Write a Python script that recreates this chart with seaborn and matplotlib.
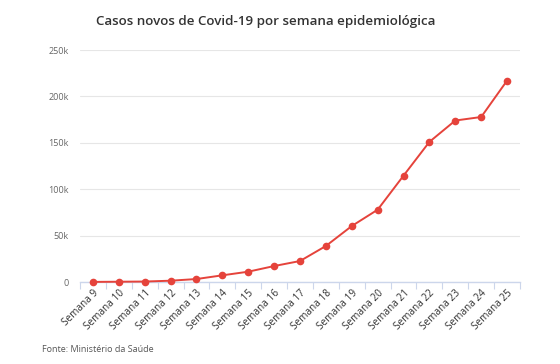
import matplotlib
matplotlib.use("Agg")
import matplotlib.pyplot as plt
import seaborn as sns
import pandas as pd
import numpy as np

semanas = ["Semana 9", "Semana 10", "Semana 11", "Semana 12", "Semana 13", "Semana 14",
           "Semana 15", "Semana 16", "Semana 17", "Semana 18", "Semana 19", "Semana 20",
           "Semana 21", "Semana 22", "Semana 23", "Semana 24", "Semana 25"]
casos = [100, 300, 500, 1400, 3200, 7200, 11100, 17200, 22600, 38800, 60300, 77900,
         114600, 151000, 174000, 177800, 217000]
yticks = [0, 50000, 100000, 150000, 200000, 250000]
ylabels = ["0", "50k", "100k", "150k", "200k", "250k"]

sns.set_theme(style="white")
plt.rcParams['font.family'] = ['Open Sans', 'DejaVu Sans']

df = pd.DataFrame({"semana": semanas, "casos": casos, "pos": np.arange(len(semanas))})

fig = plt.figure(figsize=(5.6, 3.64), dpi=100)
ax = fig.add_axes([80/560, 1-282/364, 440/560, 232/364])

red = "#e5433b"
sns.lineplot(data=df, x="pos", y="casos", ax=ax, color=red, linewidth=1.4,
             marker="o", markersize=5.5, markeredgewidth=0, clip_on=False, zorder=3)

ax.set_xlim(-0.5, len(semanas) - 0.5)
ax.set_ylim(0, 250000)
ax.set_yticks(yticks)
ax.set_yticklabels(ylabels, fontsize=6.5, color="#666666")
ax.set_xticks(df["pos"])
ax.set_xticklabels(semanas, rotation=45, ha="right", rotation_mode="anchor",
                   fontsize=7.2, color="#333333")
ax.set_xticks(np.arange(len(semanas) + 1) - 0.5, minor=True)
ax.tick_params(axis="x", which="major", length=0, pad=4)
ax.tick_params(axis="x", which="minor", length=5, width=0.8, color="#ccd6eb", direction="out", bottom=True)
ax.tick_params(axis="y", length=0, pad=8)
for lab in ax.get_yticklabels():
    lab.set_horizontalalignment("right")

ax.grid(axis="y", color="#e6e6e6", linewidth=0.8)
ax.grid(axis="x", visible=False)
for s in ["top", "right", "left"]:
    ax.spines[s].set_visible(False)
ax.spines["bottom"].set_color("#ccd6eb")
ax.spines["bottom"].set_linewidth(1)
ax.set_xlabel("")
ax.set_ylabel("")

fig.text(266/560, 1-22/364, "Casos novos de Covid-19 por semana epidemiológica",
         ha="center", va="center", fontsize=9.6, fontweight="semibold", color="#333333")
fig.text(42/560, 1-349/364, "Fonte: Ministério da Saúde", ha="left", va="center",
         fontsize=6.5, color="#555555")

fig.savefig("out.png", dpi=100)
